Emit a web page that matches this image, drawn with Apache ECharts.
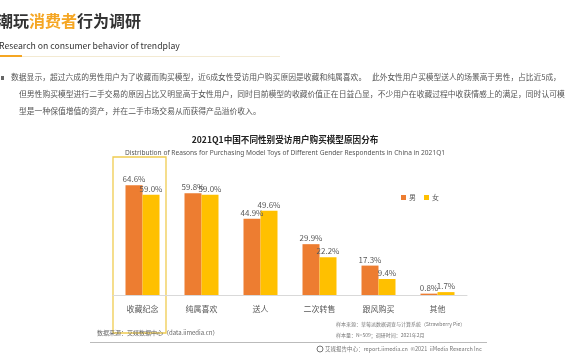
<!DOCTYPE html>
<html><head><meta charset="utf-8">
<script src="https://cdn.jsdelivr.net/npm/echarts@6/dist/echarts.min.js"></script>
<style>html,body{margin:0;padding:0;background:#fff}#c{width:570px;height:360px}</style>
</head><body><div id="c"></div>
<script>
const categories = ['收藏纪念','纯属喜欢','送人','二次转售','跟风购买','其他'];
const maleValues = [64.6, 59.8, 44.9, 29.9, 17.3, 0.8];
const femaleValues = [59.0, 59.0, 49.6, 22.2, 9.4, 1.7];
const seriesNames = ['男','女'];

const F = '"Noto Sans CJK SC","Noto Sans",sans-serif';
const chart = echarts.init(document.getElementById('c'));
const lbl = {show:true, position:'top', distance:2, color:'#595959', fontSize:8, fontFamily:F, formatter: p => p.value.toFixed(1)+'%'};
chart.setOption({
  animation:false,
  textStyle:{fontFamily:F},
  legend:{data:seriesNames, left:396, top:189, itemWidth:5, itemHeight:5, itemGap:8, textStyle:{fontSize:7, color:'#595959', padding:[0,0,0,-2]}, icon:'rect'},
  grid:{left:113, right:103, top:125, bottom:65},
  xAxis:{type:'category', data:categories, axisTick:{show:false},
    axisLine:{lineStyle:{color:'#d9d9d9', width:1}},
    axisLabel:{color:'#595959', fontSize:8, margin:10}},
  yAxis:{type:'value', min:0, max:100, show:false},
  series:[
    {name:seriesNames[0], type:'bar', data:maleValues, barWidth:17, barGap:'0%', itemStyle:{color:'#ED7D31'}, label:lbl},
    {name:seriesNames[1], type:'bar', data:femaleValues, barWidth:17, itemStyle:{color:'#FFC000'}, label:lbl}
  ],
  graphic:[
    {type:'text', left:-3, top:13, style:{text:'潮玩', fontSize:16, fontWeight:'bold', fill:'#333', fontFamily:F}},
    {type:'text', left:29, top:13, style:{text:'消费者', fontSize:16, fontWeight:'bold', fill:'#F5A623', fontFamily:F}},
    {type:'text', left:77, top:13, style:{text:'行为调研', fontSize:16, fontWeight:'bold', fill:'#333', fontFamily:F}},
    {type:'text', left:-1, top:41, style:{text:'Research on consumer behavior of trendplay', fontSize:8.7, fill:'#333', fontFamily:F}},
    {type:'rect', shape:{x:0,y:55,width:22,height:2}, style:{fill:'#F5A623'}},
    {type:'rect', shape:{x:22,y:56,width:258,height:1}, style:{fill:'#f3ead2'}},
    {type:'rect', shape:{x:1,y:76,width:3,height:4}, style:{fill:'#666'}},
    {type:'text', left:11, top:73, style:{text:'数据显示，超过六成的男性用户为了收藏而购买模型，近6成女性受访用户购买原因是收藏和纯属喜欢。', fontSize:7.8, fill:'#555', fontFamily:F}},
    {type:'text', left:372, top:73, style:{text:'此外女性用户买模型送人的场景高于男性，占比近5成，', fontSize:7.7, fill:'#555', fontFamily:F}},
    {type:'text', left:19, top:90, style:{text:'但男性购买模型进行二手交易的原因占比又明显高于女性用户，同时目前模型的收藏价值正在日益凸显，不少用户在收藏过程中收获情感上的满足，同时认可模', fontSize:7.8, fill:'#555', fontFamily:F}},
    {type:'text', left:19, top:107, style:{text:'型是一种保值增值的资产，并在二手市场交易从而获得产品溢价收入。', fontSize:7.8, fill:'#555', fontFamily:F}},
    {type:'text', left:'center', top:135, style:{text:'2021Q1中国不同性别受访用户购买模型原因分布', fontSize:8.6, fontWeight:'bold', fill:'#222', fontFamily:F}},
    {type:'text', left:'center', top:150, style:{text:'Distribution of Reasons for Purchasing Model Toys of Different Gender Respondents in China in 2021Q1', fontSize:6.6, fill:'#555', fontFamily:'"Noto Sans",sans-serif'}},
    {type:'rect', shape:{x:113,y:157,width:53,height:176}, style:{fill:'none', stroke:'#F0CC50', lineWidth:1.3}},
    {type:'text', left:97, top:330, style:{text:'数据来源：艾媒数据中心（data.iimedia.cn）', fontSize:6, fill:'#666', fontFamily:F}},
    {type:'text', left:336, top:322, style:{text:'样本来源：草莓派数据调查与计算系统（Strawberry Pie）', fontSize:5, fill:'#777', fontFamily:F}},
    {type:'text', left:336, top:333, style:{text:'样本量：N=509；调研时间：2021年2月', fontSize:5, fill:'#777', fontFamily:F}},
    {type:'rect', shape:{x:90,y:342,width:397,height:1}, style:{fill:'#bbb'}},
    {type:'circle', shape:{cx:320,cy:349,r:3}, style:{fill:'none', stroke:'#777', lineWidth:1}},
    {type:'text', left:325, top:346, style:{text:'艾媒报告中心：report.iimedia.cn  ©2021  iiMedia Research Inc', fontSize:5.5, fill:'#777', fontFamily:F}}
  ]
});
</script></body></html>
